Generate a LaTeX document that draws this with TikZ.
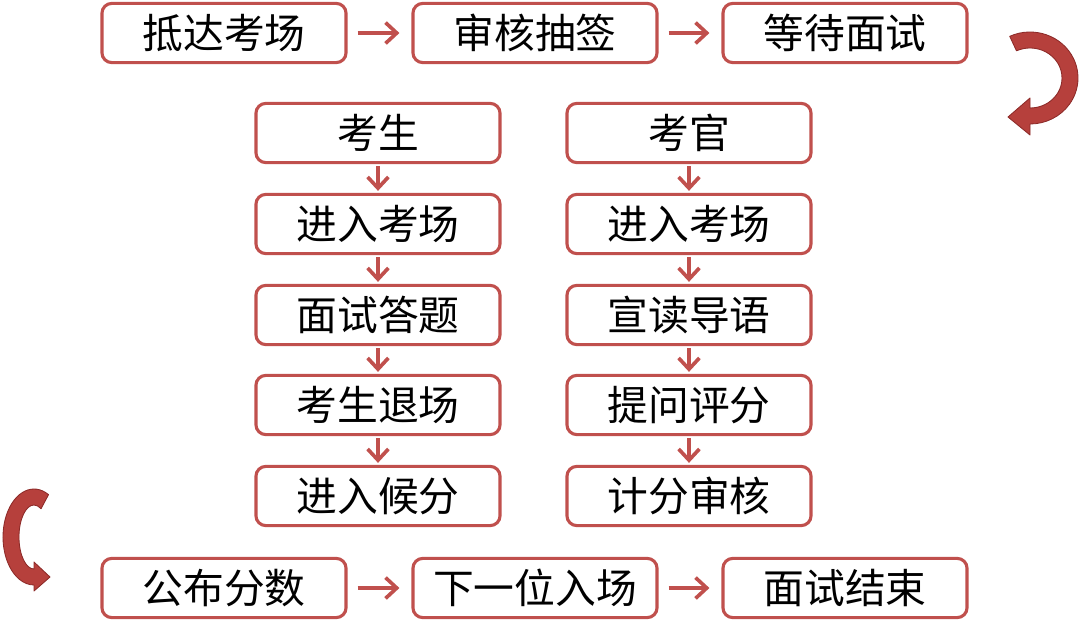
\documentclass[tikz,border=0pt]{standalone}
\usepackage{fontspec}
\usepackage{xcolor}
\usepackage{tikz}
\usetikzlibrary{arrows.meta,positioning,calc}
\newfontfamily\cjkfont{Noto Sans CJK SC}
\definecolor{flowLine}{RGB}{192,80,77}
\definecolor{flowTurn}{RGB}{182,64,60}
\definecolor{flowTurnEdge}{RGB}{140,42,40}
\tikzset{
  stagebox/.style={rectangle, draw=flowLine, fill=white, line width=2.2pt,
    rounded corners=7pt, minimum width=6.1cm, minimum height=1.48cm, align=center,
    inner sep=2pt, font=\cjkfont\fontsize{29}{32}\selectfont},
  flowarrow/.style={-{Straight Barb[length=2.8mm,width=5.2mm,line width=2.6pt]}, draw=flowLine,
    line width=2.8pt},
  sidearrow/.style={flowarrow, shorten <=0.25cm, shorten >=0.3cm},
  downarrow/.style={flowarrow, shorten <=0.05cm, shorten >=0.05cm},
  turnshape/.style={fill=flowTurn, draw=flowTurnEdge, line width=0.6pt, line join=round},
}

\begin{document}
\begin{tikzpicture}[x=0.025cm,y=0.025cm]
  \useasboundingbox (0,0) rectangle (1080,-632);

  % --- Arrival row ---
  \node[stagebox] (arrive) at (224,-33) {抵达考场};
  \node[stagebox] (draw) at (535,-33) {审核抽签};
  \node[stagebox] (wait) at (845,-33) {等待面试};

  % --- Candidate column ---
  \node[stagebox] (cand) at (378,-133) {考生};
  \node[stagebox] (candin) at (378,-224) {进入考场};
  \node[stagebox] (answer) at (378,-315) {面试答题};
  \node[stagebox] (candout) at (378,-405) {考生退场};
  \node[stagebox] (await) at (378,-496) {进入候分};

  % --- Examiner column ---
  \node[stagebox] (exam) at (689,-133) {考官};
  \node[stagebox] (examin) at (689,-224) {进入考场};
  \node[stagebox] (guide) at (689,-315) {宣读导语};
  \node[stagebox] (score) at (689,-405) {提问评分};
  \node[stagebox] (tally) at (689,-496) {计分审核};

  % --- Result row ---
  \node[stagebox] (publish) at (224,-588) {公布分数};
  \node[stagebox] (next) at (535,-588) {下一位入场};
  \node[stagebox] (finish) at (845,-588) {面试结束};

  % --- Row arrows ---
  \draw[sidearrow] (arrive) -- (draw);
  \draw[sidearrow] (draw) -- (wait);
  \draw[sidearrow] (publish) -- (next);
  \draw[sidearrow] (next) -- (finish);

  % --- Column arrows ---
  \draw[downarrow] (cand) -- (candin);
  \draw[downarrow] (candin) -- (answer);
  \draw[downarrow] (answer) -- (candout);
  \draw[downarrow] (candout) -- (await);
  \draw[downarrow] (exam) -- (examin);
  \draw[downarrow] (examin) -- (guide);
  \draw[downarrow] (guide) -- (score);
  \draw[downarrow] (score) -- (tally);

  % --- Turn arrows ---
  \coordinate (turnright) at (1030,-78);
  \coordinate (turnleft) at (34,-537);
  \draw[turnshape] ($(turnright)+(115:48 and 46)$)
    arc[start angle=115, end angle=-90, x radius=48, y radius=46]
    -- ($(turnright)+(0,-57)$) -- ($(turnright)+(-22,-39)$) -- ($(turnright)+(0,-20)$)
    -- ($(turnright)+(0,-30)$)
    arc[start angle=-90, end angle=115, x radius=32, y radius=30] -- cycle;
  \draw[turnshape] ($(turnleft)+(62:31 and 48)$)
    arc[start angle=62, end angle=270, x radius=31, y radius=48]
    -- ($(turnleft)+(0,-54)$) -- ($(turnleft)+(16,-40)$) -- ($(turnleft)+(0,-25)$)
    -- ($(turnleft)+(0,-32)$)
    arc[start angle=270, end angle=62, x radius=15, y radius=32] -- cycle;
\end{tikzpicture}
\end{document}
